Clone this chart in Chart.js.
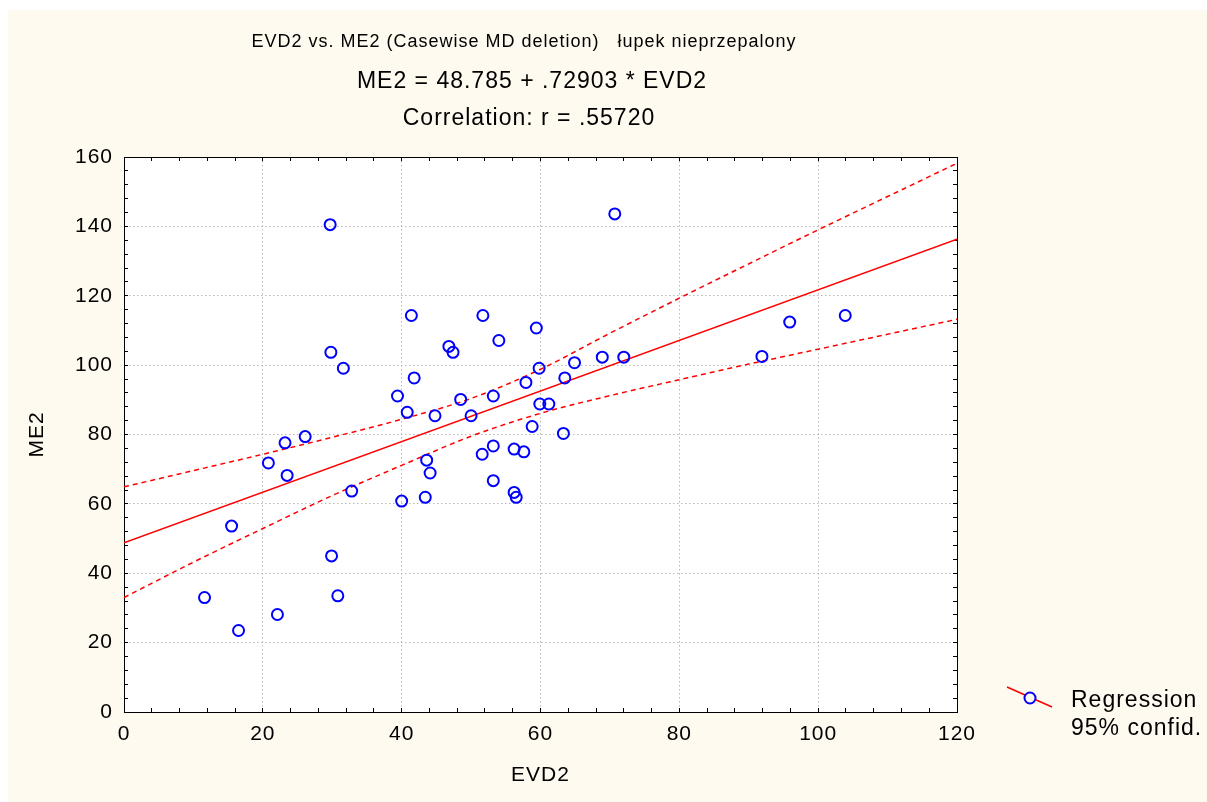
<!DOCTYPE html>
<html>
<head>
<meta charset="utf-8">
<title>EVD2 vs. ME2</title>
<script src="https://cdn.jsdelivr.net/npm/chart.js@4.4.0/dist/chart.umd.min.js"></script>
<style>
  html, body { margin: 0; padding: 0; background: #ffffff; }
</style>
</head>
<body>
<canvas id="chart" width="1207" height="802"></canvas>
<script>
// łupek nieprzepalony: EVD2 / ME2 pairs
var evd2 = [29.7, 70.7, 41.4, 51.7, 59.4, 54.0, 46.8, 47.4, 29.8, 31.6, 59.8, 41.8, 57.9, 39.4, 53.2,
            48.5, 40.8, 44.8, 50.0, 59.9, 61.2, 58.8, 23.2, 26.1, 64.9, 68.9, 72.0, 63.5, 95.9, 103.9,
            91.9, 63.3, 53.2, 51.6, 56.2, 57.6, 43.6, 44.1, 53.2, 56.2, 56.5, 43.4, 40.0, 32.8, 20.8,
            23.5, 15.5, 11.6, 16.5, 22.1, 29.9, 30.8];
var me2  = [140.5, 143.6, 114.3, 114.3, 110.7, 107.1, 105.4, 103.7, 103.7, 99.1, 99.1, 96.3, 95.0, 91.1, 91.1,
            90.1, 86.4, 85.4, 85.4, 88.8, 88.8, 82.3, 77.6, 79.4, 100.7, 102.3, 102.3, 96.3, 112.4, 114.3,
            102.5, 80.3, 76.7, 74.3, 75.8, 75.0, 72.6, 68.9, 66.7, 63.3, 61.9, 61.9, 60.8, 63.7, 71.8,
            68.2, 53.6, 33.0, 23.5, 28.1, 45.0, 33.5];

// regression ME2 = 48.785 + .72903 * EVD2
var intercept = 48.785;
var slope = 0.72903;
var fitRange = [0, 120];

// 95% confidence band
var bandX     = [0, 10, 20, 30, 40, 50, 60, 70, 80, 90, 100, 110, 120];
var bandUpper = [64.9, 69.6, 74.3, 79.2, 84.4, 90.4, 98.8, 109.2, 119.3, 129.2, 139.0, 148.6, 158.2];
var bandLower = [33.0, 43.2, 52.9, 62.4, 71.1, 79.5, 86.1, 91.2, 95.8, 100.3, 104.6, 108.9, 113.2];

var titleLines = [
  'EVD2 vs. ME2 (Casewise MD deletion)   łupek nieprzepalony',
  'ME2 = 48.785 + .72903 * EVD2',
  'Correlation: r = .55720'
];
var legendLabels = ['Regression', '95% confid.'];

var FONT = '"Liberation Sans", Arial, Helvetica, sans-serif';
var ink = '#000000';
var cream = '#fffaef';

function majorGrid(step) {
  return function (c) {
    var v = c.tick ? c.tick.value : 0;
    return (v % step === 0 && v > c.scale.min && v < c.scale.max) ? '#b8b8b8' : 'rgba(0,0,0,0)';
  };
}
function majorLabel(step) {
  return function (v) { return v % step === 0 ? String(v) : ''; };
}

var backdrop = {
  id: 'backdrop',
  beforeDraw: function (chart) {
    var ctx = chart.ctx, a = chart.chartArea;
    ctx.save();
    ctx.fillStyle = '#ffffff';
    ctx.fillRect(0, 0, chart.width, chart.height);
    ctx.fillStyle = cream;
    ctx.fillRect(8, 10, chart.width - 8, chart.height - 10);
    ctx.fillStyle = '#ffffff';
    ctx.fillRect(a.left, a.top, a.right - a.left, a.bottom - a.top);
    ctx.restore();
    ctx.letterSpacing = '1px';
  }
};

var header = {
  id: 'header',
  afterDraw: function (chart) {
    var ctx = chart.ctx;
    ctx.save();
    ctx.fillStyle = ink;
    ctx.textAlign = 'center';
    ctx.textBaseline = 'alphabetic';
    ctx.font = '18px ' + FONT;
    ctx.fillText(titleLines[0], 524, 47);
    ctx.font = '23px ' + FONT;
    ctx.fillText(titleLines[1], 532, 88);
    ctx.fillText(titleLines[2], 529, 125);
    ctx.restore();
  }
};

var sideLegend = {
  id: 'sideLegend',
  afterDraw: function (chart) {
    var ctx = chart.ctx;
    ctx.save();
    ctx.strokeStyle = '#ff0000';
    ctx.lineWidth = 1.5;
    ctx.beginPath();
    ctx.moveTo(1007, 687);
    ctx.lineTo(1052, 707);
    ctx.stroke();
    ctx.beginPath();
    ctx.arc(1030, 698, 5.5, 0, Math.PI * 2);
    ctx.fillStyle = cream;
    ctx.fill();
    ctx.strokeStyle = '#0000ff';
    ctx.lineWidth = 2;
    ctx.stroke();
    ctx.fillStyle = ink;
    ctx.font = '23px ' + FONT;
    ctx.textAlign = 'left';
    ctx.textBaseline = 'alphabetic';
    ctx.fillText(legendLabels[0], 1071, 707);
    ctx.fillText(legendLabels[1], 1071, 735);
    ctx.restore();
  }
};

var points = evd2.map(function (x, i) { return { x: x, y: me2[i] }; });
var fitLine = fitRange.map(function (x) { return { x: x, y: intercept + slope * x }; });
var upper = bandX.map(function (x, i) { return { x: x, y: bandUpper[i] }; });
var lower = bandX.map(function (x, i) { return { x: x, y: bandLower[i] }; });

var tickFont = { family: FONT, size: 21 };

var chart = new Chart(document.getElementById('chart'), {
  type: 'scatter',
  data: {
    datasets: [
      {
        label: 'ME2',
        data: points,
        pointStyle: 'circle',
        pointRadius: 5.5,
        pointBorderWidth: 2,
        borderColor: '#0000ff',
        backgroundColor: 'rgba(0,0,0,0)'
      },
      {
        type: 'line',
        label: 'Regression',
        data: fitLine,
        borderColor: '#ff0000',
        borderWidth: 1.5,
        pointRadius: 0,
        fill: false
      },
      {
        type: 'line',
        label: '95% confid.',
        data: upper,
        borderColor: '#ff0000',
        borderWidth: 1.5,
        borderDash: [5, 4],
        pointRadius: 0,
        cubicInterpolationMode: 'monotone',
        fill: false
      },
      {
        type: 'line',
        label: '95% confid. (lower)',
        data: lower,
        borderColor: '#ff0000',
        borderWidth: 1.5,
        borderDash: [5, 4],
        pointRadius: 0,
        cubicInterpolationMode: 'monotone',
        fill: false
      }
    ]
  },
  options: {
    responsive: false,
    animation: false,
    devicePixelRatio: 1,
    events: [],
    layout: { padding: { left: 4, top: 157, right: 250, bottom: 0 } },
    plugins: {
      legend: { display: false },
      title: { display: false },
      tooltip: { enabled: false }
    },
    scales: {
      x: {
        type: 'linear',
        position: 'bottom',
        min: 0,
        max: 120,
        ticks: {
          stepSize: 4,
          autoSkip: false,
          maxRotation: 0,
          padding: 14,
          color: ink,
          font: tickFont,
          callback: majorLabel(20)
        },
        grid: {
          color: majorGrid(20),
          lineWidth: 1,
          tickLength: -4,
          tickColor: ink,
          tickWidth: 1
        },
        border: { color: ink, width: 1, dash: [1.5, 2.5] },
        title: {
          display: true,
          text: 'EVD2',
          color: ink,
          font: tickFont,
          padding: { top: 0, bottom: 14 }
        },
        afterFit: function (s) { s.height = 90; }
      },
      y: {
        type: 'linear',
        position: 'left',
        min: 0,
        max: 160,
        ticks: {
          stepSize: 4,
          autoSkip: false,
          padding: 15,
          color: ink,
          font: tickFont,
          callback: majorLabel(20)
        },
        grid: {
          color: majorGrid(20),
          lineWidth: 1,
          tickLength: -4,
          tickColor: ink,
          tickWidth: 1
        },
        border: { color: ink, width: 1, dash: [1.5, 2.5] },
        title: {
          display: true,
          text: 'ME2',
          color: ink,
          font: tickFont,
          padding: { top: 21, bottom: 0 }
        },
        afterFit: function (s) { s.width = 120; }
      },
      xTop: {
        type: 'linear',
        position: 'top',
        min: 0,
        max: 120,
        ticks: { stepSize: 4, autoSkip: false, display: false },
        grid: { drawOnChartArea: false, tickLength: -4, tickColor: ink, tickWidth: 1 },
        border: { color: ink, width: 1 },
        afterFit: function (s) { s.height = 0; }
      },
      yRight: {
        type: 'linear',
        position: 'right',
        min: 0,
        max: 160,
        ticks: { stepSize: 4, autoSkip: false, display: false },
        grid: { drawOnChartArea: false, tickLength: -4, tickColor: ink, tickWidth: 1 },
        border: { color: ink, width: 1 },
        afterFit: function (s) { s.width = 0; }
      }
    }
  },
  plugins: [backdrop, header, sideLegend]
});
</script>
</body>
</html>
